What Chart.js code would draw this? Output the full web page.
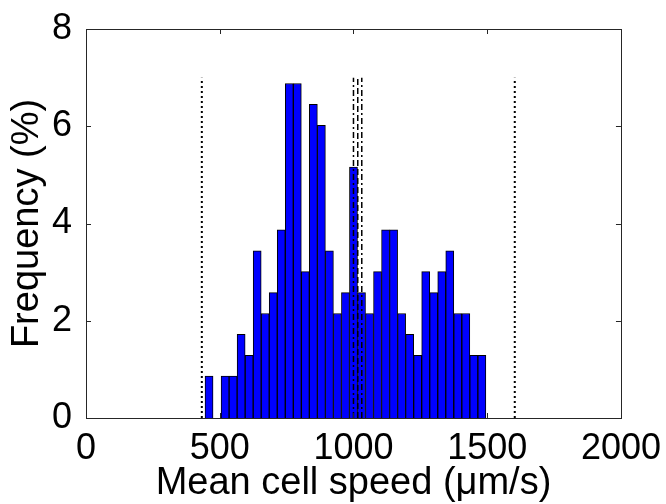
<!DOCTYPE html>
<html>
<head>
<meta charset="utf-8">
<script src="https://cdn.jsdelivr.net/npm/chart.js@4/dist/chart.umd.min.js"></script>
<style>
  body { margin: 0; background: #fff; }
  #wrap { width: 666px; height: 504px; }
</style>
</head>
<body>
<div id="wrap"><canvas id="histChart"></canvas></div>
<script>
// histogram bins (centre of each 30 um/s bin) and frequency in %
const binCenters = [460, 490, 520, 550, 580, 610, 640, 670, 700, 730,
                    760, 790, 820, 850, 880, 910, 940, 970, 1000, 1030,
                    1060, 1090, 1120, 1150, 1180, 1210, 1240, 1270, 1300, 1330,
                    1360, 1390, 1420, 1450, 1480];
const frequency = [0.86, 0, 0.86, 0.86, 1.72, 1.29, 3.44, 2.15, 2.58, 3.87,
                   6.88, 6.88, 3.01, 6.45, 6.02, 3.44, 2.15, 2.58, 5.16, 2.58,
                   2.15, 3.01, 3.87, 3.87, 2.15, 1.72, 1.29, 3.01, 2.58, 3.01,
                   3.44, 2.15, 2.15, 1.29, 1.29];

// vertical marker lines (x position, height)
const boundLines = [433, 1603];
const centerLines = [1000, 1016, 1031];
const lineTop = 7;

const xTicks = [0, 500, 1000, 1500, 2000];
const yTicks = [0, 2, 4, 6, 8];

const fontFamily = "'Liberation Sans', Arial, sans-serif";

function vline(x, dash, width) {
    return {
        type: 'line',
        data: [{x: x, y: 0}, {x: x, y: lineTop}],
        borderColor: '#000',
        borderWidth: width,
        borderDash: dash,
        pointRadius: 0,
        fill: false,
        order: 1
    };
}

// MATLAB style box with inward ticks
const frame = {
    id: 'frame',
    afterDatasetsDraw(chart) {
        const {ctx, chartArea: a, scales: {x, y}} = chart;
        ctx.save();
        ctx.strokeStyle = '#262626';
        ctx.lineWidth = 1;
        ctx.strokeRect(Math.round(a.left) + 0.5, Math.round(a.top) + 0.5,
                       Math.round(a.right - a.left), Math.round(a.bottom - a.top));
        ctx.beginPath();
        xTicks.forEach(v => {
            const px = Math.round(x.getPixelForValue(v)) + 0.5;
            ctx.moveTo(px, a.bottom); ctx.lineTo(px, a.bottom - 5);
            ctx.moveTo(px, a.top); ctx.lineTo(px, a.top + 5);
        });
        yTicks.forEach(v => {
            const py = Math.round(y.getPixelForValue(v)) + 0.5;
            ctx.moveTo(a.left, py); ctx.lineTo(a.left + 5, py);
            ctx.moveTo(a.right, py); ctx.lineTo(a.right - 5, py);
        });
        ctx.stroke();
        ctx.restore();
    }
};

const ctx = document.getElementById('histChart').getContext('2d');
const histChart = new Chart(ctx, {
    type: 'bar',
    data: {
        datasets: [
            vline(boundLines[0], [2, 3], 2),
            vline(boundLines[1], [2, 3], 2),
            vline(centerLines[0], [6, 3, 2, 3], 1.5),
            vline(centerLines[1], [6, 3], 1.5),
            vline(centerLines[2], [6, 3, 2, 3], 1.5),
            {
                type: 'bar',
                data: binCenters.map((c, i) => ({x: c, y: frequency[i]})),
                backgroundColor: '#0000ff',
                borderColor: '#000',
                borderWidth: 1,
                borderSkipped: 'start',
                barPercentage: 1,
                categoryPercentage: 1,
                order: 2
            }
        ]
    },
    options: {
        responsive: true,
        maintainAspectRatio: false,
        animation: false,
        events: [],
        layout: { padding: { top: 29, right: 43, left: 0, bottom: 0 } },
        plugins: { legend: { display: false }, tooltip: { enabled: false } },
        scales: {
            x: {
                type: 'linear',
                offset: false,
                min: 0,
                max: 2000,
                afterFit: s => { s.height = 86; },
                afterBuildTicks: s => { s.ticks = xTicks.map(v => ({value: v})); },
                grid: { display: false },
                border: { display: false },
                ticks: {
                    padding: 5,
                    color: '#000',
                    maxRotation: 0,
                    callback: v => String(v),
                    font: { family: fontFamily, size: 36, lineHeight: 1 }
                },
                title: {
                    display: true,
                    text: 'Mean cell speed (μm/s)',
                    color: '#000',
                    padding: { top: 0, bottom: 1.5 },
                    font: { family: fontFamily, size: 38, lineHeight: 1 }
                }
            },
            y: {
                min: 0,
                max: 8,
                afterFit: s => { s.width = 86; },
                afterBuildTicks: s => { s.ticks = yTicks.map(v => ({value: v})); },
                grid: { display: false },
                border: { display: false },
                ticks: {
                    padding: 6,
                    color: '#000',
                    callback: v => String(v),
                    font: { family: fontFamily, size: 36, lineHeight: 1 }
                },
                title: {
                    display: true,
                    text: 'Frequency (%)',
                    color: '#000',
                    padding: { top: 9, bottom: 0 },
                    font: { family: fontFamily, size: 38, lineHeight: 1 }
                }
            }
        }
    },
    plugins: [frame]
});
</script>
</body>
</html>
